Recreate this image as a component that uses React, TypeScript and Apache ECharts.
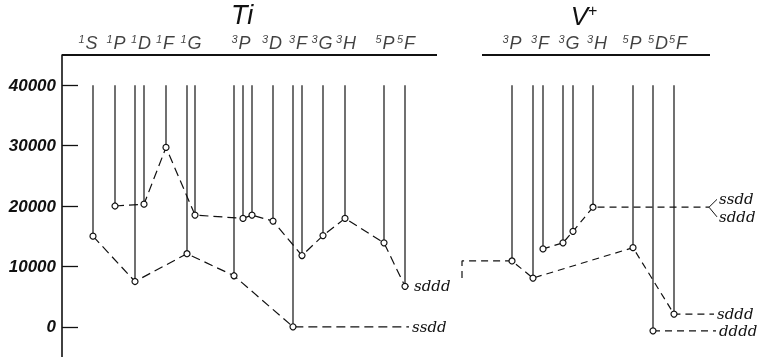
import React, { useEffect, useRef } from 'react';
import * as echarts from 'echarts';

// energy axis
const yTicks = [0, 10000, 20000, 30000, 40000];
const yMin = -5000;
const yMax = 45000;
const levelTop = 40000;

// header spans (x units) of the two term tables
const tiSpan = [0, 375];
const vSpan = [420, 648];

// term headings
const tiTermNames = ['1S', '1P', '1D', '1F', '1G', '3P', '3D', '3F', '3G', '3H', '5P', '5F'];
const tiTermX = [26, 54, 79, 103, 129, 179, 210, 236, 260, 284, 323, 344];
const vTermNames = ['3P', '3F', '3G', '3H', '5P', '5D', '5F'];
const vTermX = [450, 478, 507, 535, 570, 596, 616];

// Ti levels (x position, energy cm-1)
const tiLevelX = [31, 53, 73, 82, 104, 125, 133, 172, 181, 190, 211, 231, 240, 261, 283, 322, 343];
const tiLevelE = [15000, 20000, 7500, 20300, 29700, 12100, 18500, 8450, 17950, 18500, 17500, 0, 11800, 15100, 17950, 13900, 6700];

// V+ levels
const vLevelX = [450, 471, 481, 501, 511, 531, 571, 591, 612];
const vLevelE = [10900, 8070, 12900, 13900, 15800, 19800, 13100, -670, 2100];

// configurations (chains of level indices + tail)
const tiSsddChain = [0, 2, 5, 7, 11];
const tiSsddTailX = 347;
const tiSdddChain = [1, 3, 4, 6, 8, 9, 10, 12, 13, 14, 15, 16];
const tiSdddTailX = 349;

const vConnector = [[400, 8100], [400, 10900]];
const vSdddChain = [0, 1, 6, 8];
const vSdddTailX = 652;
const vUpperChain = [2, 3, 4, 5];
const vUpperTailX = 647;
const vUpperBranch = [[655, 21100], [655, 18200]];
const vDdddChain = [7];
const vDdddTailX = 654;

const ink = '#111111';
const labelFont = { fontFamily: 'DejaVu Serif', fontStyle: 'italic' as const, fontSize: 15, color: ink };

function chainData(xs: number[], es: number[], idx: number[], tailX: number | null, head: number[][] = []) {
  const d: any[] = head.map((p) => ({ value: p, symbol: 'none' }));
  idx.forEach((i) => d.push({ value: [xs[i], es[i]] }));
  if (tailX !== null) {
    const last = idx[idx.length - 1];
    d.push({ value: [tailX, es[last]], symbol: 'none' });
  }
  return d;
}

function chainSeries(data: any[], text: string | null, dash: number[]) {
  return {
    type: 'line',
    data,
    symbol: 'circle',
    symbolSize: 6,
    clip: false,
    z: 5,
    itemStyle: { color: '#fff', borderColor: ink, borderWidth: 1.2 },
    lineStyle: { color: ink, width: 1.2, type: dash },
    endLabel: text
      ? { show: true, formatter: text, distance: 3, ...labelFont }
      : { show: false },
  };
}

function termLabel(name: string) {
  return '{s|' + name[0] + '}{t|' + name.slice(1) + '}';
}

export default function App() {
  const ref = useRef<HTMLDivElement>(null);
  useEffect(() => {
    if (!ref.current) return;
    const chart = echarts.init(ref.current, null, { renderer: 'svg' });
    const levels = [
      ...tiLevelX.map((x, i) => [x, tiLevelE[i]]),
      ...vLevelX.map((x, i) => [x, vLevelE[i]]),
    ];
    const termRich = {
      s: { fontSize: 11, fontFamily: 'Liberation Sans', fontStyle: 'italic', color: ink, padding: [0, 1, 8, 0] },
      t: { fontSize: 18, fontFamily: 'Liberation Sans', fontStyle: 'italic', color: ink },
    };
    const termSeries = (names: string[], xs: number[]) => ({
      type: 'scatter',
      symbolSize: 0,
      clip: false,
      itemStyle: { color: ink },
      data: names.map((n, i) => ({ name: n, value: [xs[i], yMax] })),
      label: {
        show: true,
        position: 'top',
        distance: 3,
        color: ink,
        formatter: (p: any) => termLabel(p.name),
        rich: termRich,
      },
    });
    const option: any = {
      animation: false,
      grid: { left: 62, right: 5, top: 55, bottom: 0 },
      xAxis: { type: 'value', min: 0, max: 700, show: false },
      yAxis: {
        type: 'value',
        min: yMin,
        max: yMax,
        axisLine: { show: true, lineStyle: { color: ink, width: 1.6 } },
        axisTick: { show: true, inside: true, length: 16, customValues: yTicks, lineStyle: { color: ink, width: 1.3 } },
        axisLabel: {
          customValues: yTicks,
          formatter: (v: number) => String(v),
          margin: 6,
          fontFamily: 'Liberation Sans',
          fontStyle: 'italic',
          fontWeight: 'bold',
          fontSize: 17,
          color: ink,
        },
        splitLine: { show: false },
      },
      graphic: [
        {
          type: 'text',
          x: 242,
          y: 15,
          style: { text: 'Ti', fontSize: 27, fontFamily: 'Liberation Sans', fontStyle: 'italic', fill: ink, align: 'center', verticalAlign: 'middle' },
        },
        {
          type: 'text',
          x: 584,
          y: 16,
          style: {
            text: '{v|V}{p|+}',
            align: 'center',
            verticalAlign: 'middle',
            rich: {
              v: { fontSize: 26, fontFamily: 'Liberation Sans', fontStyle: 'italic', fill: ink },
              p: { fontSize: 16, fontFamily: 'Liberation Sans', fill: ink, padding: [0, 0, 12, 0] },
            },
          },
        },
      ],
      series: [
        {
          type: 'custom',
          data: levels,
          z: 2,
          renderItem: (_p: any, api: any) => {
            const a = api.coord([api.value(0), levelTop]);
            const b = api.coord([api.value(0), api.value(1)]);
            return {
              type: 'line',
              shape: { x1: a[0], y1: a[1], x2: b[0], y2: b[1] },
              style: { stroke: ink, lineWidth: 1.2 },
            };
          },
        },
        {
          type: 'line',
          data: tiSpan.map((x) => [x, yMax]),
          symbol: 'none',
          clip: false,
          lineStyle: { color: ink, width: 1.8 },
        },
        {
          type: 'line',
          data: vSpan.map((x) => [x, yMax]),
          symbol: 'none',
          clip: false,
          lineStyle: { color: ink, width: 1.8 },
        },
        termSeries(tiTermNames, tiTermX),
        termSeries(vTermNames, vTermX),
        chainSeries(chainData(tiLevelX, tiLevelE, tiSsddChain, tiSsddTailX), 'ssdd', [9, 5]),
        chainSeries(chainData(tiLevelX, tiLevelE, tiSdddChain, tiSdddTailX), 'sddd', [9, 5]),
        chainSeries(chainData(vLevelX, vLevelE, vSdddChain, vSdddTailX, vConnector), 'sddd', [7, 5]),
        chainSeries(chainData(vLevelX, vLevelE, vUpperChain, vUpperTailX), null, [7, 5]),
        chainSeries(chainData(vLevelX, vLevelE, vDdddChain, vDdddTailX), 'dddd', [7, 5]),
        ...vUpperBranch.map((p, i) => ({
          type: 'line',
          data: [[vUpperTailX, vLevelE[vUpperChain[vUpperChain.length - 1]]], p],
          symbol: 'none',
          clip: false,
          lineStyle: { color: ink, width: 1 },
          endLabel: { show: true, formatter: i === 0 ? 'ssdd' : 'sddd', distance: 2, ...labelFont },
        })),
      ],
    };
    chart.setOption(option);
    return () => chart.dispose();
  }, []);
  return <div ref={ref} style={{ position: 'fixed', left: 0, top: 0, width: 767, height: 357 }} />;
}
